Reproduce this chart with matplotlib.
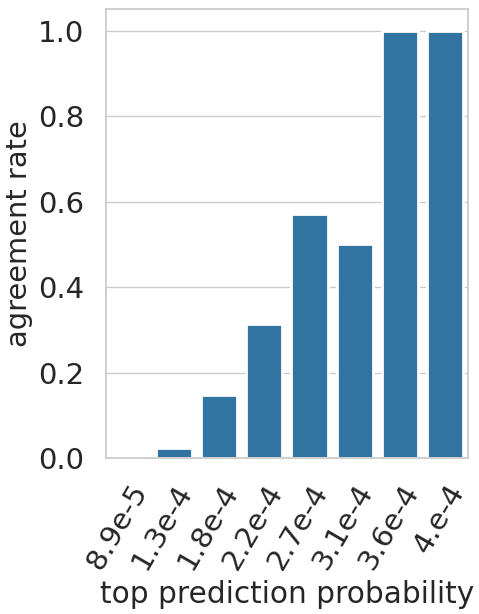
import matplotlib
matplotlib.use("Agg")
import matplotlib.pyplot as plt
import seaborn as sns
import pandas as pd

# probabilita' di predizione (bin) e tasso di accordo
bins = ["8.9e-5", "1.3e-4", "1.8e-4", "2.2e-4", "2.7e-4", "3.1e-4", "3.6e-4", "4.e-4"]
rates = [0.0, 0.024, 0.148, 0.314, 0.571, 0.5, 1.0, 1.0]

sns.set_theme(style="whitegrid", context="poster", font_scale=0.9)
plt.rcParams['font.family'] = ['DejaVu Sans']
plt.rcParams['grid.linewidth'] = 1.0
plt.rcParams['axes.linewidth'] = 1.3

df = pd.DataFrame({"prob": bins, "rate": rates})

fig, ax = plt.subplots(figsize=(4.79, 6.14), dpi=100)
sns.barplot(data=df, x="prob", y="rate", color="#1f77b4", ax=ax)
ax.set_xlabel("top prediction probability", fontsize=21.3)
ax.set_ylabel("agreement rate", fontsize=20.8)
ax.tick_params(labelsize=21)
ax.set_ylim(0, 1.05)
plt.setp(ax.get_xticklabels(), rotation=60, ha="right", rotation_mode="anchor")
fig.subplots_adjust(left=0.221, right=0.977, top=0.985, bottom=0.254)
fig.savefig("out.png")
